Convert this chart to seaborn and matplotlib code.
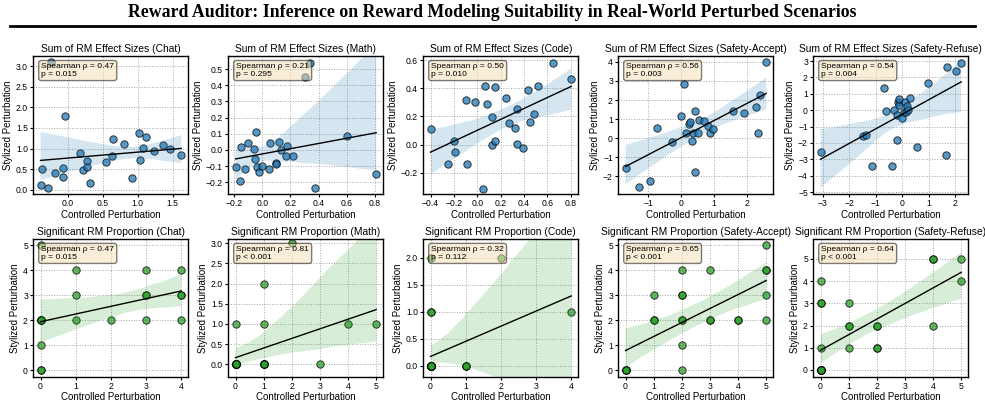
import numpy as np
import pandas as pd
import seaborn as sns
import matplotlib.pyplot as plt
from matplotlib.lines import Line2D
from matplotlib.ticker import MultipleLocator

plt.rcParams['font.family'] = ['Liberation Sans', 'DejaVu Sans']

# ---- data ---- #
tasks = ['Chat', 'Math', 'Code', 'Safety-Accept', 'Safety-Refuse']

# top row: sum of RM effect sizes
chat_x = [-0.39, -0.37, -0.29, -0.24, -0.18, -0.07, -0.07, -0.04, 0.17, 0.22, 0.27, 0.28, 0.32,
          0.55, 0.63, 0.65, 0.80, 0.92, 1.01, 1.03, 1.07, 1.11, 1.23, 1.36, 1.46, 1.62]
chat_y = [0.12, 0.49, 0.04, 3.10, 0.40, 0.53, 0.30, 1.78, 0.89, 0.47, 0.70, 0.54, 0.17,
          0.66, 0.81, 1.22, 1.12, 0.28, 1.37, 0.71, 1.01, 1.27, 0.93, 1.09, 1.00, 0.84]
math_x = [-0.19, -0.16, -0.15, -0.12, -0.10, -0.057, -0.05, -0.043, -0.038, -0.026, 0.0, 0.047, 0.055,
          0.095, 0.10, 0.118, 0.13, 0.166, 0.175, 0.22, 0.306, 0.339, 0.374, 0.60, 0.81]
math_y = [-0.107, -0.19, 0.018, -0.12, 0.043, 0.008, -0.055, 0.109, -0.107, -0.135, -0.10, -0.12, 0.041,
          -0.082, -0.085, 0.047, 0.0, -0.037, 0.023, -0.037, 0.45, 0.54, -0.234, 0.086, -0.15]
code_x = [-0.40, -0.25, -0.20, -0.19, -0.10, -0.089, -0.017, 0.046, 0.066, 0.086, 0.123, 0.129, 0.151,
          0.154, 0.243, 0.274, 0.326, 0.337, 0.337, 0.394, 0.437, 0.454, 0.489, 0.517, 0.643, 0.803]
code_y = [0.11, -0.14, 0.025, -0.054, 0.32, -0.14, 0.30, -0.32, 0.42, 0.29, 0.196, -0.005, 0.025,
          0.41, 0.33, 0.152, 0.118, 0.25, 0.002, -0.027, 0.39, 0.164, 0.218, 0.415, 0.58, 0.469]
acc_x = [-1.69, -1.27, -0.94, -0.73, -0.26, -0.01, 0.10, 0.16, 0.25, 0.27, 0.35, 0.37, 0.42,
         0.44, 0.51, 0.54, 0.71, 0.81, 0.90, 0.98, 1.60, 1.91, 2.30, 2.34, 2.41, 2.60]
acc_y = [-1.58, -2.55, -2.22, 0.56, -0.17, 1.16, 2.83, 0.28, 0.76, 0.83, -0.16, 0.26, 1.44,
         -1.75, 0.30, 0.94, 0.90, 0.64, 0.28, 0.49, 1.44, 1.34, 1.63, 0.30, 2.26, 3.99]
ref_x = [-3.08, -1.47, -1.37, -1.14, -0.68, -0.62, -0.39, -0.29, -0.20, -0.18, -0.15, -0.13, -0.10,
         -0.01, 0.06, 0.09, 0.13, 0.18, 0.21, 0.29, 0.57, 0.98, 1.67, 1.71, 2.05, 2.23]
ref_y = [-2.55, -1.60, -1.50, -3.39, 1.38, -0.08, -3.39, 0.04, -1.83, -0.27, 0.51, 0.31, 0.66,
         -0.47, -0.14, 0.49, -0.12, 0.27, 0.04, 0.74, -2.26, 1.68, -2.75, 2.65, 2.38, 2.90]

# bottom row: significant RM proportion (integer counts, many overlap)
chat_px = [0, 0, 0, 0, 0, 0, 0, 0, 1, 1, 1, 2, 3, 3, 3, 3, 4, 4, 4, 4]
chat_py = [5, 2, 2, 2, 2, 1, 0, 0, 4, 3, 2, 2, 4, 3, 3, 2, 4, 3, 3, 2]
math_px = [0] * 13 + [1] * 7 + [2, 3, 4, 5]
math_py = [1] + [0] * 12 + [2, 1] + [0] * 5 + [3, 0, 1, 1]
code_px = [0] * 21 + [1] * 3 + [2, 4]
code_py = [2, 1, 1] + [0] * 18 + [0] * 3 + [2, 1]
acc_px = [0, 0, 0, 0, 1, 1, 1, 2, 2, 2, 2, 2, 2, 2, 3, 3, 3, 4, 4, 5, 5, 5, 5, 5]
acc_py = [0, 0, 0, 0, 3, 2, 2, 4, 3, 3, 2, 2, 1, 0, 4, 2, 2, 2, 2, 5, 4, 4, 3, 2]
ref_px = [0] * 12 + [1, 1, 1, 1, 2, 2, 2, 2, 4, 4, 4, 5, 5]
ref_py = [4, 3, 3, 1] + [0] * 8 + [3, 2, 2, 1, 2, 2, 1, 1, 5, 5, 2, 5, 4]

top_x = [chat_x, math_x, code_x, acc_x, ref_x]
top_y = [chat_y, math_y, code_y, acc_y, ref_y]
bot_x = [chat_px, math_px, code_px, acc_px, ref_px]
bot_y = [chat_py, math_py, code_py, acc_py, ref_py]

top_rho = ['0.47', '0.21', '0.50', '0.56', '0.54']
top_p = ['= 0.015', '= 0.295', '= 0.010', '= 0.003', '= 0.004']
bot_rho = ['0.47', '0.81', '0.32', '0.65', '0.64']
bot_p = ['= 0.015', '< 0.001', '= 0.112', '< 0.001', '< 0.001']

# tick steps and y limits as seen in the reference
top_step = [(0.5, 0.5), (0.2, 0.1), (0.2, 0.2), (1, 1), (1, 1)]
bot_step = [(1, 1), (1, 0.5), (1, 0.5), (1, 1), (1, 1)]
top_ylim = [(-0.1, 3.25), (-0.27, 0.58), (-0.35, 0.63), (-2.9, 4.3), (-5.1, 3.3)]
bot_ylim = [(-0.25, 5.25), (-0.3, 3.1), (-0.2, 2.35), (-0.25, 5.25), (-0.3, 5.9)]

fig, axes = plt.subplots(2, 5, figsize=(9.85, 4.04), dpi=100)
plt.subplots_adjust(left=0.034, right=0.983, top=0.861, bottom=0.068, wspace=0.26, hspace=0.33)


def draw(ax, xs, ys, color, title, rho, p, step, ylim, seed):
    df = pd.DataFrame({'x': xs, 'y': ys})
    sns.regplot(data=df, x='x', y='y', ax=ax, color=color, ci=95, seed=seed,
                scatter_kws={'s': 28, 'alpha': 0.75, 'edgecolor': 'black', 'linewidths': 0.7},
                line_kws={'linewidth': 1.0})
    ax.lines[-1].set_color('black')
    for c in ax.collections[1:]:
        c.set_alpha(0.18)
    ax.set_title(title, fontsize=7.4, pad=3)
    ax.set_xlabel('Controlled Perturbation', fontsize=7, labelpad=1)
    ax.set_ylabel('Stylized Perturbation', fontsize=7, labelpad=2)
    ax.xaxis.set_major_locator(MultipleLocator(step[0]))
    ax.yaxis.set_major_locator(MultipleLocator(step[1]))
    ax.set_ylim(*ylim)
    ax.tick_params(labelsize=6.2, length=2.5, pad=1.5)
    ax.grid(True, linestyle=':', color='grey', alpha=0.7, linewidth=0.7)
    ax.set_axisbelow(True)
    for s in ax.spines.values():
        s.set_linewidth(1.0)
    ax.text(0.05, 0.95, f'Spearman ρ = {rho}\np {p}', transform=ax.transAxes,
            fontsize=6.1, va='top', zorder=10,
            bbox=dict(boxstyle='round', facecolor='wheat', alpha=0.5))


for i, t in enumerate(tasks):
    draw(axes[0, i], top_x[i], top_y[i], 'tab:blue',
         f'Sum of RM Effect Sizes ({t})', top_rho[i], top_p[i], top_step[i], top_ylim[i], 7)
    draw(axes[1, i], bot_x[i], bot_y[i], 'tab:green',
         f'Significant RM Proportion ({t})', bot_rho[i], bot_p[i], bot_step[i], bot_ylim[i], 7)

fig.suptitle('Reward Auditor: Inference on Reward Modeling Suitability in Real-World Perturbed Scenarios',
             fontsize=12.8, fontweight='bold', family='Liberation Serif', y=0.99)
fig.add_artist(Line2D([0.01, 0.99], [0.936, 0.936], color='black', linewidth=2))

plt.savefig('out.png', dpi=100)
